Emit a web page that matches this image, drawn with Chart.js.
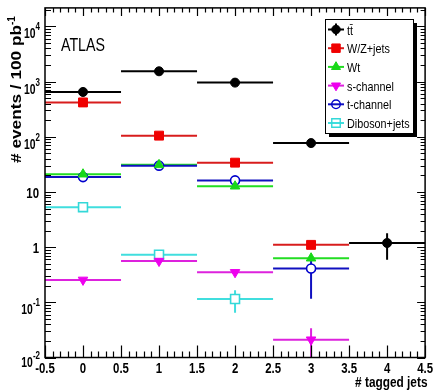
<!DOCTYPE html>
<html>
<head>
<meta charset="utf-8">
<script src="https://cdn.jsdelivr.net/npm/chart.js"></script>
<style>
  html, body { margin: 0; padding: 0; background: #ffffff; }
  #wrap { width: 433px; height: 391px; }
</style>
</head>
<body>
<div id="wrap"><canvas id="jetsChart" width="433" height="391"></canvas></div>
<script>

// bins of the number of b-tagged jets
const binCenters = [0, 1, 2, 3, 4];
const binHalfWidth = 0.5;

// expected events per 100 pb^-1, one entry per bin (null = empty bin)
const ttbar    = [650, 1540, 960, 77, 1.19];
const wzJets   = [420, 105, 34, 1.1, null];
const wt       = [21, 31, 12.7, 0.63, null];
const sChannel = [0.255, 0.56, 0.35, 0.021, null];
const tChannel = [18.6, 30, 16.2, 0.41, null];
const diboson  = [5.3, 0.73, 0.115, null, null];

// symmetric MC stat errors (0 = not drawn)
const ttbarErr    = [0, 0, 0, 0, 0.6];
const wzJetsErr   = [0, 0, 0, 0, 0];
const wtErr       = [3, 0, 0, 0, 0];
const sChannelErr = [0, 0, 0, 0.013, 0];
const tChannelErr = [0, 0, 0, 0.294, 0];
const dibosonErr  = [0, 0, 0.05, 0, 0];

const seriesLabels = ['tt\u0304', 'W/Z+jets', 'Wt', 's-channel', 't-channel', 'Diboson+jets'];

// axis ticks
const xTickValues = [-0.5, 0, 0.5, 1, 1.5, 2, 2.5, 3, 3.5, 4, 4.5];
const xTickLabels = ['-0.5', '0', '0.5', '1', '1.5', '2', '2.5', '3', '3.5', '4', '4.5'];
const yDecades = [0.01, 0.1, 1, 10, 100, 1000, 10000];
const yTickLabels = [['10', '-2'], ['10', '-1'], ['1', ''], ['10', ''], ['10', '2'], ['10', '3'], ['10', '4']];

const X_MIN = -0.5, X_MAX = 4.5;
const Y_MIN = 0.01, Y_MAX = 21700;

const styles = [
  { color: '#000000', line: '#000000', pointStyle: 'circle',   radius: 4.5, rotation: 0,   open: false },
  { color: '#f00000', line: '#d81c1c', pointStyle: 'rect',     radius: 6.3, rotation: 0,   open: false },
  { color: '#18d818', line: '#22dd22', pointStyle: 'triangle', radius: 5.5, rotation: 0,   open: false },
  { color: '#ee00ee', line: '#dd22dd', pointStyle: 'triangle', radius: 5.5, rotation: 180, open: false },
  { color: '#0000cc', line: '#1010c0', pointStyle: 'circle',   radius: 4.5, rotation: 0,   open: true },
  { color: '#33d8d8', line: '#40dede', pointStyle: 'rect',     radius: 6.3, rotation: 0,   open: true }
];

const values = [ttbar, wzJets, wt, sChannel, tChannel, diboson];
const errors = [ttbarErr, wzJetsErr, wtErr, sChannelErr, tChannelErr, dibosonErr];

const datasets = values.map((vals, i) => {
  const s = styles[i];
  const pts = [];
  vals.forEach((v, b) => { if (v !== null) pts.push({ x: binCenters[b], y: v, err: errors[i][b] }); });
  return {
    label: seriesLabels[i],
    data: pts,
    pointStyle: s.pointStyle,
    pointRotation: s.rotation,
    pointRadius: s.radius,
    pointBorderWidth: s.open ? 1.6 : 1,
    pointBorderColor: s.color,
    pointBackgroundColor: s.open ? '#ffffff' : s.color,
    lineColor: s.line,
    showLine: false
  };
});

const LABEL_FONT = 'bold 15px "Liberation Sans", Arial, sans-serif';
const BASE_FONT = 'bold 14px "Liberation Sans", Arial, sans-serif';
const EXP_FONT = 'bold 10px "Liberation Sans", Arial, sans-serif';

// narrow helvetica-like text, squeezed horizontally
function narrowText(ctx, text, x, y, font, sx, align) {
  ctx.save();
  ctx.font = font;
  const w = ctx.measureText(text).width * sx;
  let x0 = x;
  if (align === 'center') x0 = x - w / 2;
  if (align === 'right') x0 = x - w;
  ctx.translate(x0, y);
  ctx.scale(sx, 1);
  ctx.textAlign = 'left';
  ctx.fillText(text, 0, 0);
  ctx.restore();
  return w;
}

// horizontal bin widths + vertical error bars, under the markers
const binLines = {
  id: 'binLines',
  beforeDatasetsDraw(chart) {
    const { ctx, chartArea: a, scales: { x, y } } = chart;
    ctx.save();
    ctx.beginPath();
    ctx.rect(a.left, a.top, a.right - a.left, a.bottom - a.top);
    ctx.clip();
    ctx.lineWidth = 2;
    chart.data.datasets.forEach(ds => {
      ctx.strokeStyle = ds.lineColor;
      ds.data.forEach(p => {
        const py = y.getPixelForValue(p.y);
        ctx.beginPath();
        ctx.moveTo(x.getPixelForValue(p.x - binHalfWidth), py);
        ctx.lineTo(x.getPixelForValue(p.x + binHalfWidth), py);
        ctx.stroke();
        if (p.err > 0) {
          const lo = p.y - p.err > 0 ? y.getPixelForValue(p.y - p.err) : a.bottom + 5;
          ctx.beginPath();
          ctx.moveTo(x.getPixelForValue(p.x), lo);
          ctx.lineTo(x.getPixelForValue(p.x), y.getPixelForValue(p.y + p.err));
          ctx.stroke();
        }
      });
    });
    ctx.restore();
  }
};

// ROOT style frame, ticks, labels, legend
const frame = {
  id: 'frame',
  afterDraw(chart) {
    const { ctx, chartArea: a, scales: { x, y } } = chart;
    ctx.save();
    ctx.strokeStyle = '#000';
    ctx.fillStyle = '#000';
    ctx.lineWidth = 1.5;
    ctx.strokeRect(a.left, a.top, a.right - a.left, a.bottom - a.top);

    ctx.lineWidth = 1.2;
    // x ticks, bottom and top
    for (let k = 0; k <= 50; k++) {
      const v = X_MIN + k * 0.1;
      const px = Math.round(x.getPixelForValue(v)) + 0.5;
      const major = k % 5 === 0;
      ctx.beginPath();
      ctx.moveTo(px, a.bottom);
      ctx.lineTo(px, a.bottom - (major ? 12 : 6));
      ctx.moveTo(px, a.top);
      ctx.lineTo(px, a.top + (major ? 8 : 4.5));
      ctx.stroke();
    }
    // y ticks, left and right
    yDecades.forEach(d => {
      for (let m = 1; m <= 9; m++) {
        const v = d * m;
        if (v > Y_MAX) break;
        const py = Math.round(y.getPixelForValue(v)) + 0.5;
        const major = m === 1;
        ctx.beginPath();
        ctx.moveTo(a.left, py);
        ctx.lineTo(a.left + (major ? 11 : 6), py);
        ctx.moveTo(a.right, py);
        ctx.lineTo(a.right - (major ? 8 : 4.5), py);
        ctx.stroke();
      }
    });

    // x tick labels
    xTickValues.forEach((v, i) => {
      narrowText(ctx, xTickLabels[i], x.getPixelForValue(v), a.bottom + 15, LABEL_FONT, 0.76, 'center');
    });

    // y tick labels with exponents
    yDecades.forEach((d, i) => {
      const py = y.getPixelForValue(d);
      const [base, exp] = yTickLabels[i];
      const rightEdge = 40;
      if (!exp) {
        narrowText(ctx, base, rightEdge - 1, py + 6, LABEL_FONT, 0.76, 'right');
      } else {
        ctx.font = EXP_FONT;
        const ew = ctx.measureText(exp).width * 0.8;
        const off = d === 0.01 ? 3 : 6;
        narrowText(ctx, exp, rightEdge, py + off - 2, EXP_FONT, 0.8, 'right');
        narrowText(ctx, base, rightEdge - ew, py + off + 6, BASE_FONT, 0.74, 'right');
      }
    });

    // axis titles
    narrowText(ctx, '# tagged jets', 427.5, 387, LABEL_FONT, 0.79, 'right');

    ctx.save();
    ctx.translate(21, 163);
    ctx.rotate(-Math.PI / 2);
    const yt = '# events / 100 pb';
    const ytFont = 'bold 14px "Liberation Sans", Arial, sans-serif';
    ctx.font = ytFont;
    const ys = 138 / ctx.measureText(yt).width;
    narrowText(ctx, yt, 0, 0, ytFont, ys, 'left');
    narrowText(ctx, '-1', 138, -6, EXP_FONT, 1, 'left');
    ctx.restore();

    // experiment label
    const atlasFont = '19px "Liberation Sans", Arial, sans-serif';
    ctx.font = atlasFont;
    const aw = ctx.measureText('ATLAS').width;
    narrowText(ctx, 'ATLAS', 61, 51, atlasFont, 44 / aw, 'left');

    // legend box with drop shadow
    const lx = 325, ly = 19, lw = 88, lh = 114;
    ctx.fillStyle = '#000';
    ctx.fillRect(lx + 4, ly + 4, lw, lh);
    ctx.fillStyle = '#fff';
    ctx.fillRect(lx, ly, lw, lh);
    ctx.lineWidth = 1;
    ctx.strokeStyle = '#000';
    ctx.strokeRect(lx + 0.5, ly + 0.5, lw, lh);

    chart.data.datasets.forEach((ds, i) => {
      const s = styles[i];
      const cy = 29.5 + i * 18.7;
      ctx.strokeStyle = s.line;
      ctx.lineWidth = 2;
      ctx.beginPath();
      ctx.moveTo(328, cy);
      ctx.lineTo(344, cy);
      ctx.stroke();
      if (i === 0) {
        ctx.beginPath();
        ctx.moveTo(336, cy - 6);
        ctx.lineTo(336, cy + 6);
        ctx.stroke();
      }
      ctx.fillStyle = s.open ? 'rgba(0,0,0,0)' : s.color;
      ctx.strokeStyle = s.color;
      ctx.lineWidth = s.open ? 1.4 : 1;
      Chart.helpers.drawPoint(ctx, {
        pointStyle: s.pointStyle,
        rotation: s.rotation,
        radius: s.radius * 0.95,
        borderWidth: ctx.lineWidth
      }, 336, cy);
      ctx.fillStyle = '#000';
      narrowText(ctx, ds.label, 347, cy + 5, '13.5px "Liberation Sans", Arial, sans-serif', 0.8, 'left');
    });
    ctx.restore();
  }
};

new Chart(document.getElementById('jetsChart'), {
  type: 'scatter',
  data: { datasets },
  options: {
    responsive: false,
    animation: false,
    layout: { padding: { left: 45, top: 5, right: 6, bottom: 33.5 } },
    plugins: {
      legend: { display: false },
      tooltip: { enabled: false }
    },
    scales: {
      x: { type: 'linear', min: X_MIN, max: X_MAX, display: false },
      y: { type: 'logarithmic', min: Y_MIN, max: Y_MAX, display: false }
    }
  },
  plugins: [binLines, frame]
});

</script>
</body>
</html>
